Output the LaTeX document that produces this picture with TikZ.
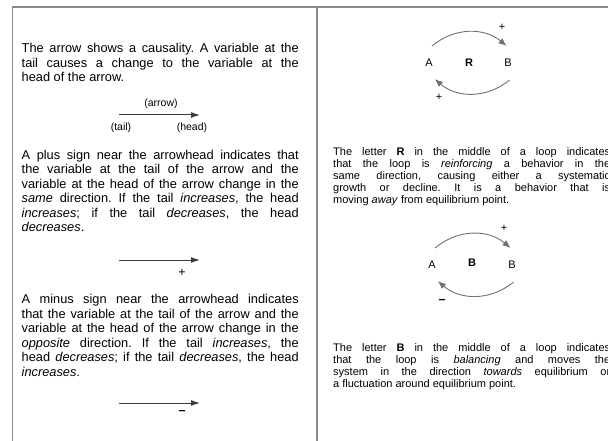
\documentclass[tikz,border=0pt]{standalone}
\usepackage{fontspec}
\setmainfont{Liberation Sans}
\usetikzlibrary{arrows.meta}
\definecolor{cframe}{HTML}{8A8A8A}
\definecolor{cshaft}{HTML}{3C3C3C}
\definecolor{carc}{HTML}{707070}
\tikzset{
  every picture/.style={x=1pt, y=1pt},
  border/.style={draw=cframe, line width=1.3pt},
  para/.style={anchor=base west, inner sep=0pt, align=justify, text width=277pt, font=\fontsize{11}{12.1}\selectfont\sloppy\frenchspacing},
  lpara/.style={para, font=\fontsize{12.8}{14.5}\selectfont\sloppy\frenchspacing},
  tag/.style={inner sep=0pt, font=\fontsize{10.5}{12}\selectfont},
  sign/.style={inner sep=0pt, font=\fontsize{11}{12}\selectfont},
  lsign/.style={inner sep=0pt, font=\fontsize{12.5}{14}\selectfont},
  letter/.style={circle, minimum size=34pt, inner sep=0pt, font=\fontsize{11}{12}\selectfont},
  arrow/.style={-{Latex[length=9pt, width=6pt]}, draw=cshaft, line width=1pt},
  looparc/.style={-{Latex[length=8pt, width=6.5pt]}, draw=carc, line width=0.9pt, bend left=40},
}

\begin{document}
\begin{tikzpicture}
  \useasboundingbox (0,0) rectangle (608,-441);
  \clip (0,0) rectangle (608,-441);
  \draw[border] (12.5,-441) |- (608,-7);
  \draw[border] (317,-7) -- (317,-441);

  \node[lpara] (p1) at (21.5,-53) {The arrow shows a causality. A variable at the\linebreak tail causes a change to the variable at the\linebreak head of the arrow.};
  \node[tag] (arw) at (161,-104) {(arrow)};
  \coordinate (t1) at (119,-115);
  \coordinate (h1) at (200,-115);
  \draw[arrow] (t1) -- (h1);
  \node[tag] (tail) at (121,-128) {(tail)};
  \node[tag] (head) at (192,-128) {(head)};

  \node[lpara] (p2) at (21.5,-159.5) {A plus sign near the arrowhead indicates that\linebreak the variable at the tail of the arrow and the\linebreak variable at the head of the arrow change in the\linebreak \textit{same} direction. If the tail \textit{increases}, the head\linebreak \textit{increases}; if the tail \textit{decreases}, the head\linebreak \textit{decreases}.};
  \coordinate (t2) at (119,-260);
  \coordinate (h2) at (200,-260);
  \draw[arrow] (t2) -- (h2);
  \node[lsign] (plus) at (182,-273) {+};

  \node[lpara] (p3) at (21.5,-303.5) {A minus sign near the arrowhead indicates\linebreak that the variable at the tail of the arrow and the\linebreak variable at the head of the arrow change in the\linebreak \textit{opposite} direction. If the tail \textit{increases}, the\linebreak head \textit{decreases}; if the tail \textit{decreases}, the head\linebreak \textit{increases}.};
  \coordinate (t3) at (119,-403);
  \coordinate (h3) at (200,-403);
  \draw[arrow] (t3) -- (h3);
  \node[lsign] (minus) at (182,-413) {\textbf{--}};

  \node[letter] (a1) at (429,-63) {A};
  \node[letter, font=\fontsize{11}{12}\selectfont\bfseries] (r1) at (469,-63) {R};
  \node[letter] (b1) at (508,-63) {B};
  \draw[looparc] (a1.80) to (b1.95);
  \draw[looparc] (b1.-85) to (a1.-70);
  \node[sign] (s1) at (502,-27) {+};
  \node[sign] (s2) at (439,-97) {+};
  \node[para] (p4) at (333,-155.5) {The letter \textbf{R} in the middle of a loop indicates\linebreak that the loop is \textit{reinforcing} a behavior in the\linebreak same direction, causing either a systematic\linebreak growth or decline. It is a behavior that is\linebreak moving \textit{away} from equilibrium point.};

  \node[letter] (a2) at (432,-265) {A};
  \node[letter, font=\fontsize{11}{12}\selectfont\bfseries] (r2) at (472,-263) {B};
  \node[letter] (b2) at (512,-265) {B};
  \draw[looparc] (a2.80) to (b2.95);
  \draw[looparc] (b2.-85) to (a2.-70);
  \node[sign] (s3) at (504,-228) {+};
  \node[lsign] (s4) at (442,-302) {\textbf{--}};
  \node[para] (p5) at (333,-351.5) {The letter \textbf{B} in the middle of a loop indicates\linebreak that the loop is \textit{balancing} and moves the\linebreak system in the direction \textit{towards} equilibrium or\linebreak a fluctuation around equilibrium point.};
\end{tikzpicture}
\end{document}
